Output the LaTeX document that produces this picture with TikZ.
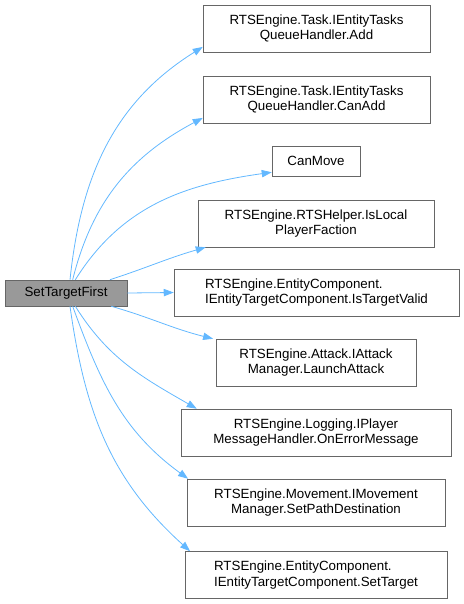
\documentclass[tikz,border=0pt]{standalone}
\usepackage{fontspec}
\setmainfont{Liberation Sans}
\usetikzlibrary{arrows.meta,positioning}
\definecolor{edgeblue}{RGB}{99,184,255}
\definecolor{boxgray}{RGB}{102,102,102}
\definecolor{srcfill}{RGB}{153,153,153}
\tikzset{
  fnblk/.style={draw=boxgray,rectangle,inner sep=0pt,minimum height=35.25pt,align=center,font=\fontsize{10}{11.5}\selectfont},
  srcblk/.style={fnblk,fill=srcfill,minimum height=19.5pt},
  call/.style={-{Triangle[length=7.5pt,width=5.5pt]},edgeblue,line width=0.6pt}
}
\begin{document}
\begin{tikzpicture}[x=0.75pt,y=-0.75pt]
  \useasboundingbox (0,0) rectangle (464,604);
  % Caller
  \node[srcblk, minimum width=91.5pt] (src) at (66,293) {SetTargetFirst};

  % Callees
  \node[fnblk, minimum width=170.25pt] (add) at (316.5,28.5) {RTSEngine.Task.IEntityTasks\\QueueHandler.Add};
  \node[fnblk, minimum width=170.25pt] (canadd) at (316.5,99.5) {RTSEngine.Task.IEntityTasks\\QueueHandler.CanAdd};
  \node[fnblk, minimum width=66pt, minimum height=22.5pt] (canmove) at (316,161) {CanMove};
  \node[fnblk, minimum width=177pt] (islocal) at (316,223.5) {RTSEngine.RTSHelper.IsLocal\\PlayerFaction};
  \node[fnblk, align=left, minimum width=213.75pt] (istarget) at (316.5,292.5) {RTSEngine.EntityComponent.\\IEntityTargetComponent.IsTargetValid};
  \node[fnblk, minimum width=150pt] (launch) at (316,362.5) {RTSEngine.Attack.IAttack\\Manager.LaunchAttack};
  \node[fnblk, minimum width=202.5pt] (onerror) at (316,432.5) {RTSEngine.Logging.IPlayer\\MessageHandler.OnErrorMessage};
  \node[fnblk, minimum width=193.5pt] (setpath) at (316,502.5) {RTSEngine.Movement.IMovement\\Manager.SetPathDestination};
  \node[fnblk, align=left, minimum width=196.5pt] (settarget) at (316,575) {RTSEngine.EntityComponent.\\IEntityTargetComponent.SetTarget};

  % Calls upwards
  \draw[call] ([xshift=3pt]src.north) to[out=84,in=212] ([yshift=4pt]add.south west);
  \draw[call] ([xshift=5pt]src.north) to[out=76,in=208] ([yshift=4pt]canadd.south west);
  \draw[call] ([xshift=7pt]src.north) to[out=58,in=188] ([yshift=3pt]canmove.south west);
  \draw[call] ([xshift=-13pt]src.north east) to[out=18,in=196] ([xshift=6pt]islocal.south west);

  % Straight call
  \draw[call] (src.east) -- (istarget.west);

  % Calls downwards
  \draw[call] ([xshift=-12pt]src.south east) to[out=-16,in=166] ([xshift=-2pt]launch.north west);
  \draw[call] ([xshift=7pt]src.south) to[out=-58,in=150] ([xshift=12pt]onerror.north west);
  \draw[call] ([xshift=5pt]src.south) to[out=-70,in=144] ([xshift=1pt]setpath.north west);
  \draw[call] ([xshift=3pt]src.south) to[out=-82,in=138] ([xshift=4pt]settarget.north west);
\end{tikzpicture}
\end{document}
